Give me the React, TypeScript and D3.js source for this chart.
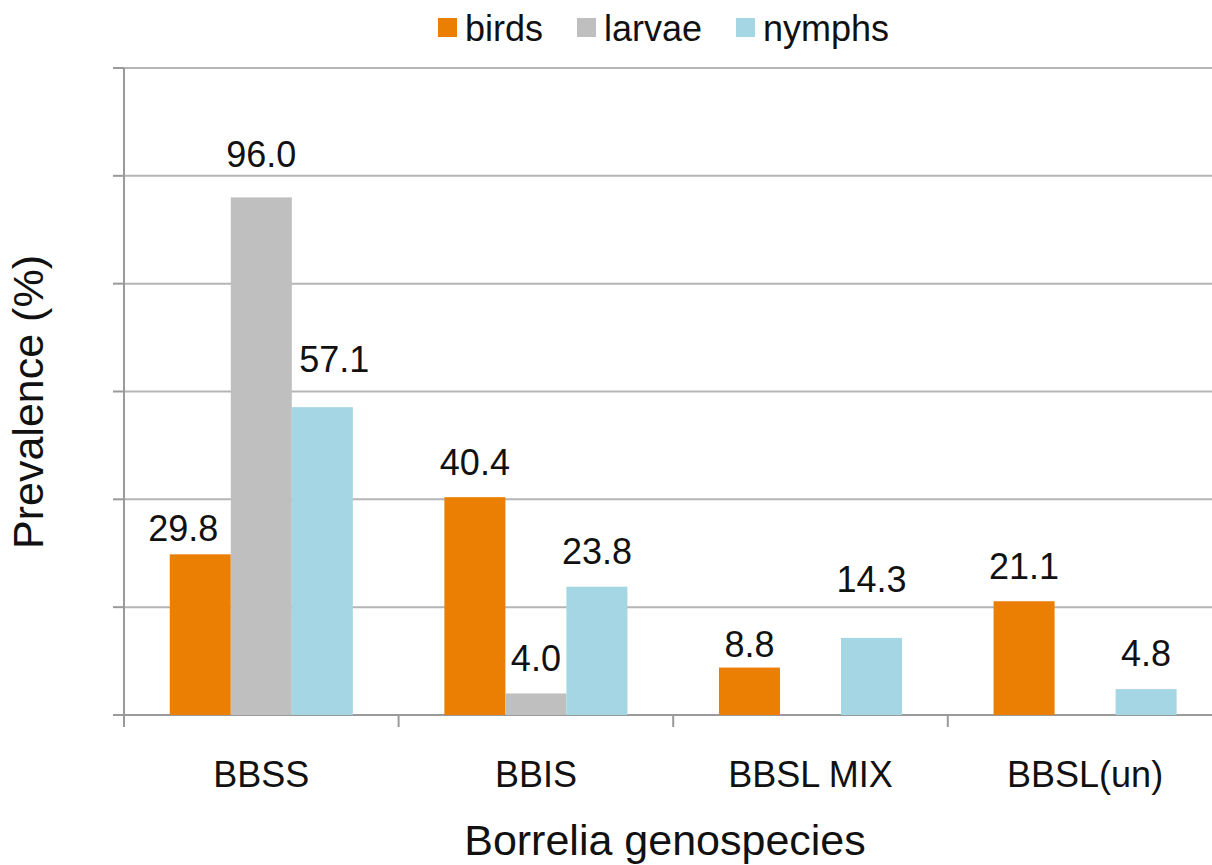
import React from 'react';
import * as d3 from 'd3';

// data
const categories = ['BBSS', 'BBIS', 'BBSL MIX', 'BBSL(un)'];
const seriesNames = ['birds', 'larvae', 'nymphs'];
const birds = [29.8, 40.4, 8.8, 21.1];
const larvae = [96.0, 4.0, null, null];
const nymphs = [57.1, 23.8, 14.3, 4.8];
const yTicks = [0, 20, 40, 60, 80, 100, 120];

const seriesValues: (number | null)[][] = [birds, larvae, nymphs];
const colors = ['#eb7f03', '#bfbfbf', '#a5d6e3'];

// the data labels were dragged by hand in the original, so gaps differ
const labelGap: number[][] = [
  [13, 22, 11, 22],
  [30, 22, 22, 22],
  [35, 23, 46, 23],
];
const labelShiftX: number[][] = [
  [-17, 0, 0, 0],
  [0, 0, 0, 0],
  [12, 0, 0, 0],
];

const W = 1212;
const H = 865;
const FONT = '"Liberation Sans", Arial, sans-serif';

export default function App() {
  const left = 124;
  const bandStep = 274.6;
  const x0 = d3.scaleBand<string>()
    .domain(categories)
    .range([left, left + bandStep * categories.length])
    .paddingInner(0)
    .paddingOuter(0);
  const x1 = d3.scaleBand<string>()
    .domain(seriesNames)
    .range([0, x0.bandwidth()])
    .paddingInner(0)
    .paddingOuter(0.75);
  const y = d3.scaleLinear().domain([0, 120]).range([715, 68]);

  const boundaries = d3.range(categories.length + 1).map(i => left + i * x0.step());

  const legendItems = [
    { name: 'birds', sx: 438, tx: 465 },
    { name: 'larvae', sx: 577, tx: 604 },
    { name: 'nymphs', sx: 736, tx: 763 },
  ];

  return (
    <svg width={W} height={H} style={{ position: 'absolute', left: 0, top: 0, background: '#fff' }}
      fontFamily={FONT}>
      {/* gridlines */}
      {yTicks.map(t => (
        <line key={'g' + t} x1={left} x2={W} y1={y(t)} y2={y(t)}
          stroke={t === 0 ? '#9a9a9a' : '#b5b5b5'} strokeWidth={2} />
      ))}
      {/* y axis */}
      <line x1={left} x2={left} y1={y(120)} y2={y(0) + 12} stroke="#9a9a9a" strokeWidth={2} />
      {yTicks.map(t => (
        <line key={'yt' + t} x1={left - 11} x2={left} y1={y(t)} y2={y(t)} stroke="#9a9a9a" strokeWidth={2} />
      ))}
      {/* x axis ticks */}
      {boundaries.map((b, i) => (
        <line key={'xt' + i} x1={b} x2={b} y1={y(0)} y2={y(0) + 12} stroke="#9a9a9a" strokeWidth={2} />
      ))}

      {/* bars */}
      {categories.map((c, ci) => (
        <g key={c} transform={`translate(${x0(c)},0)`}>
          {seriesNames.map((s, si) => {
            const v = seriesValues[si][ci];
            if (v == null) return null;
            const bx = x1(s) ?? 0;
            return (
              <g key={s}>
                <rect x={bx} y={y(v)} width={x1.bandwidth()} height={y(0) - y(v)} fill={colors[si]} />
                <text x={bx + x1.bandwidth() / 2 + labelShiftX[si][ci]} y={y(v) - labelGap[si][ci]}
                  textAnchor="middle" fontSize={36} fill="#111">
                  {v.toFixed(1)}
                </text>
              </g>
            );
          })}
        </g>
      ))}

      {/* category labels */}
      {categories.map(c => (
        <text key={'cl' + c} x={(x0(c) ?? 0) + x0.bandwidth() / 2} y={787}
          textAnchor="middle" fontSize={36} fill="#111">{c}</text>
      ))}

      {/* axis titles */}
      <text x={665} y={855} textAnchor="middle" fontSize={43} fill="#111">
        Borrelia genospecies
      </text>
      <text transform={`translate(43,402) rotate(-90)`} textAnchor="middle" fontSize={43} fill="#111">
        Prevalence (%)
      </text>

      {/* legend */}
      {legendItems.map((l, i) => (
        <g key={l.name}>
          <rect x={l.sx} y={18} width={19} height={19} fill={colors[i]} />
          <text x={l.tx} y={41} fontSize={36} fill="#111">{l.name}</text>
        </g>
      ))}
    </svg>
  );
}
